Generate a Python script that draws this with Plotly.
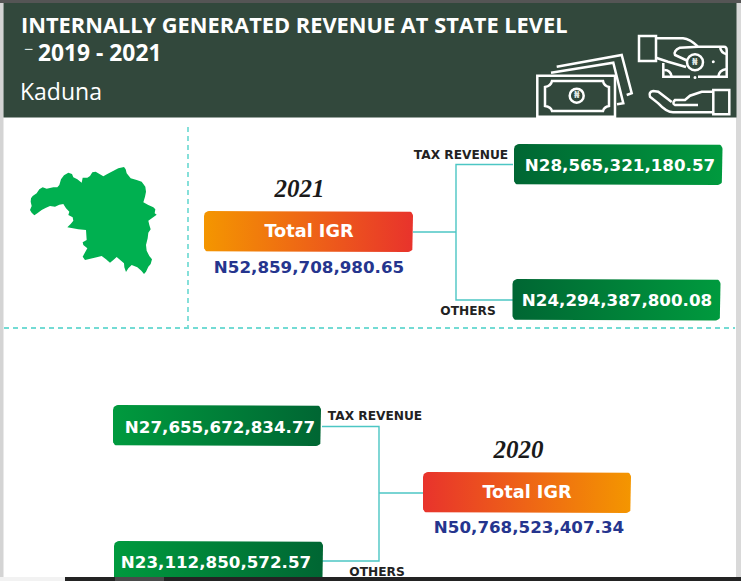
"""Kaduna internally generated revenue infographic drawn with Plotly."""
import numpy as np
import plotly.graph_objects as go

TITLE = 'INTERNALLY GENERATED REVENUE AT STATE LEVEL'
PERIOD = '2019 - 2021'
STATE = 'Kaduna'
BOX_LABEL = 'Total IGR'
TAX_LABEL = 'TAX REVENUE'
OTHER_LABEL = 'OTHERS'
YEARS = ['2021', '2020']
TOTALS = ['N52,859,708,980.65', 'N50,768,523,407.34']
TAX_VALUES = ['N28,565,321,180.57', 'N27,655,672,834.77']
OTHER_VALUES = ['N24,294,387,800.08', 'N23,112,850,572.57']

# state outline traced on a 3x crop whose corner is at (0, 130)
MAP_TRACE_X = [93, 98, 110, 118, 128, 140, 160, 172, 178, 183, 192, 205, 216, 220, 232, 245, 248, 262,
               270, 277, 287, 298, 310, 322, 340, 355, 372, 377, 380, 392, 410, 425, 436, 438, 435,
               430, 445, 460, 466, 464, 470, 458, 445, 448, 452, 445, 443, 438, 440, 448, 456, 452,
               445, 438, 432, 424, 412, 395, 385, 378, 373, 372, 360, 350, 340, 330, 318, 305, 290,
               275, 255, 248, 255, 262, 250, 248, 260, 258, 258, 235, 215, 202, 212, 220, 218, 205,
               208, 198, 190, 178, 165, 150, 138, 125, 112, 103, 95, 90, 95, 92]
MAP_TRACE_Y = [205, 198, 190, 178, 172, 176, 172, 172, 165, 148, 136, 128, 132, 142, 148, 158, 143, 143,
               138, 127, 125, 132, 139, 132, 122, 115, 111, 118, 130, 145, 150, 155, 170, 185, 200,
               217, 225, 232, 238, 250, 254, 262, 272, 285, 298, 308, 325, 345, 362, 378, 388, 402,
               410, 425, 432, 422, 412, 405, 415, 426, 412, 400, 390, 381, 390, 398, 388, 378, 382,
               385, 390, 380, 368, 355, 345, 337, 330, 315, 300, 298, 295, 292, 282, 272, 262, 255,
               245, 235, 222, 224, 230, 228, 233, 240, 250, 256, 248, 240, 228, 215]

HEADER = '#32483c'
TEAL = '#4cc6c4'
GREEN_DARK = '#006633'
GREEN_LIGHT = '#009a3e'
ORANGE = '#f49600'
RED = '#e8332c'
NAVY = '#25358e'
SANS = 'DejaVu Sans'
HEAD_FONT = 'Open Sans'
YEAR_FONT = 'Liberation Serif'

fig = go.Figure()


def add_fill(xs, ys, color=None, gradient=None):
    trace = dict(x=xs, y=ys, mode='lines', fill='toself', line=dict(width=0),
                 hoverinfo='skip', showlegend=False)
    if gradient:
        trace['fillgradient'] = dict(type='horizontal',
                                     colorscale=[[0, gradient[0]], [1, gradient[1]]])
    else:
        trace['fillcolor'] = color
    fig.add_trace(go.Scatter(**trace))


def add_rect(x0, y0, x1, y1, color):
    add_fill([x0, x1, x1, x0, x0], [y0, y0, y1, y1, y0], color)


def add_box(x0, y0, x1, y1, gradient, r=5):
    # rounded rectangle with a left to right gradient
    t = np.linspace(0, np.pi / 2, 7)
    xs = np.concatenate([x0 + r - r * np.cos(t), x1 - r + r * np.sin(t),
                         x1 - r + r * np.cos(t), x0 + r - r * np.sin(t), [x0]])
    ys = np.concatenate([y0 + r - r * np.sin(t), y0 + r - r * np.cos(t),
                         y1 - r + r * np.sin(t), y1 - r + r * np.cos(t), [y0 + r]])
    add_fill(xs, ys, gradient=gradient)


def add_line(xs, ys, color=TEAL, width=1.4, dash=None):
    fig.add_trace(go.Scatter(x=xs, y=ys, mode='lines', hoverinfo='skip', showlegend=False,
                             line=dict(color=color, width=width, dash=dash)))


def add_text(x, y, text, size, color, family=SANS, pos='middle center', weight='bold', style='normal'):
    # svg text sits a little high against the traced positions
    fig.add_trace(go.Scatter(x=[x], y=[y + 2], mode='text', text=[text], textposition=pos,
                             hoverinfo='skip', showlegend=False,
                             textfont=dict(family=family, size=size, color=color,
                                           weight=weight, style=style)))


def icon_path(path):
    fig.add_shape(type='path', path=path, line=dict(color='white', width=2.5), layer='above')


def icon_circle(cx, cy, r, fill=HEADER, width=2.5):
    fig.add_shape(type='circle', x0=cx - r, x1=cx + r, y0=cy - r, y1=cy + r, fillcolor=fill,
                  line=dict(color='white', width=width), layer='above')


def naira_mark(cx, cy):
    fig.add_annotation(x=cx, y=cy, text='₦', showarrow=False,
                       font=dict(family=SANS, size=8, color='#dfe5e1', weight='bold'))


# page frame and header band
add_rect(0, 0, 3.5, 581, '#d4d4d4')
add_rect(736, 0, 741, 581, '#d9d9d9')
add_rect(0, 0, 741, 3, '#555555')
add_rect(3.5, 3, 736.5, 117.5, HEADER)

add_text(21, 26, TITLE, 21.8, 'white', HEAD_FONT, 'middle right')
add_text(24, 49, '−', 16, '#dfe5e1', HEAD_FONT, 'middle right', 'normal')
add_text(38, 53, PERIOD, 22.8, 'white', HEAD_FONT, 'middle right')
add_text(20, 92, STATE, 23, 'white', HEAD_FONT, 'middle right', 'normal')

# section dividers and state map
add_line([188, 188], [127, 327], '#45cfc6', 1.3, '5px,4px')
add_line([4, 735], [328, 328], '#45cfc6', 1.3, '5px,4px')
add_fill([v / 3 for v in MAP_TRACE_X], [130 + v / 3 for v in MAP_TRACE_Y], '#00b050')

# 2021 block
add_line([413, 456], [232, 232])
add_line([513, 456, 456, 513], [164.5, 164.5, 300, 300])
add_box(204, 211, 413, 252, (ORANGE, RED))
add_box(514, 144, 722.5, 185, (GREEN_DARK, GREEN_LIGHT))
add_box(512.5, 279, 720.5, 320.5, (GREEN_DARK, GREEN_LIGHT))
add_text(299.5, 189, YEARS[0], 25, '#1a1a1a', YEAR_FONT, style='italic')
add_text(309, 231, BOX_LABEL, 17.7, 'white')
add_text(309, 267, TOTALS[0], 16.7, NAVY)
add_text(620, 165, TAX_VALUES[0], 16.7, 'white')
add_text(617, 300, OTHER_VALUES[0], 16.7, 'white')
add_text(461, 154, TAX_LABEL, 12.2, '#222222')
add_text(468, 310, OTHER_LABEL, 12.2, '#222222')

# 2020 block
add_line([322, 379, 379, 322], [426.5, 426.5, 561, 561])
add_line([379, 423], [493, 493])
add_box(113, 405, 321, 446, (GREEN_LIGHT, GREEN_DARK))
add_box(114, 541, 323, 590, (GREEN_LIGHT, GREEN_DARK))
add_box(423, 472, 631, 513, (RED, ORANGE))
add_text(518.5, 450, YEARS[1], 25, '#1a1a1a', YEAR_FONT, style='italic')
add_text(527, 492, BOX_LABEL, 17.7, 'white')
add_text(529, 527, TOTALS[1], 16.7, NAVY)
add_text(220, 427, TAX_VALUES[1], 16.7, 'white')
add_text(216, 562, OTHER_VALUES[1], 16.7, 'white')
add_text(375, 415, TAX_LABEL, 12.2, '#222222')
add_text(377, 571, OTHER_LABEL, 12.2, '#222222')

# window strip along the bottom
add_rect(0, 577, 741, 581, '#232323')
add_rect(0, 577, 65, 581, '#f2f2f2')
add_rect(115, 577, 164, 581, '#4a4a4a')

# bank notes icon
icon_path('M551,72.7 L613.3,62.7 L623.3,103.3 L617,104.3')
icon_path('M556.7,66.7 L621.7,55 L631.7,93.3 L626.7,95')
fig.add_shape(type='rect', x0=537.3, x1=615, y0=75.7, y1=116.7, fillcolor=HEADER,
              line=dict(color='white', width=2.5), layer='above')
icon_path('M552,81 L603,81 Q604,86 609,87 L609,106 Q604,107 603,111 L552,111 '
          'Q551,107 545,106 L545,87 Q551,86 552,81 Z')
icon_circle(576.7, 95.7, 7)
naira_mark(576.7, 95.7)

# giving hand icon
icon_path('M639,36 L656,36 L656,61 L639,61 Z')
icon_path('M656,38.3 L683,38.3 Q690,39 698,46.7 L724,46.7 Q726.7,46.7 726.7,50 L726.7,76.7 L698,76.7')
icon_path('M690,76.7 L663.3,76.7 L663.3,63')
icon_path('M698,46.7 L680,47.7 Q673,51 675,55 L688,61')
icon_path('M656,57.7 L668,61.7 L686,67')
icon_path('M664.3,70 Q670.7,70 671.7,76.7')
icon_path('M720,46.7 Q720.7,53 726.7,54.3')
icon_path('M726.7,69 Q719,70 718.3,76.7')
icon_circle(695, 62.3, 8)
naira_mark(695, 62.3)
icon_circle(713.3, 61.7, 0.8, 'white', 1.4)
icon_circle(695, 77.5, 0.8, 'white', 1.4)

# receiving hand icon
icon_path('M713.3,90 L729.3,90 L729.3,114.3 L713.3,114.3 Z')
icon_path('M713,91.7 L701.7,91.7 L690,95.7 L685,100 L675,100 Q671.7,103.3 675,105 L698,105')
icon_path('M713,112.3 L673,112.3 Q666.7,112.3 658.3,103.3 L650,96.7 Q648.3,91.7 653.3,91 '
          'L658.3,91.7 L671.7,102')

fig.update_layout(
    width=741,
    height=581,
    margin=dict(l=0, r=0, t=0, b=0),
    paper_bgcolor='white',
    plot_bgcolor='white',
    showlegend=False,
    xaxis=dict(range=[0, 741], visible=False, fixedrange=True),
    yaxis=dict(range=[581, 0], visible=False, fixedrange=True),
)

fig.write_html('out.html', config={'displayModeBar': False},
               post_script="document.body.style.margin='0';document.body.style.overflow='hidden';")
